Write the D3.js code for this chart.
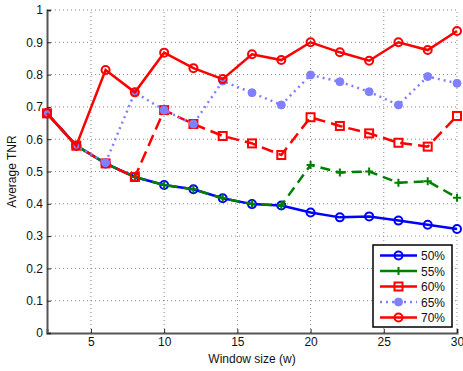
<html>
<head>
<script src="https://d3js.org/d3.v7.min.js"></script>
<style>
body { margin: 0; background: #fff; }
text { font-family: "Liberation Sans", Arial, sans-serif; }
</style>
</head>
<body>
<svg id="chart" width="463" height="371"></svg>
<script>
var windowSizes = [2, 4, 6, 8, 10, 12, 14, 16, 18, 20, 22, 24, 26, 28, 30];
var tnr50 = [0.68, 0.58, 0.525, 0.483, 0.458, 0.445, 0.417, 0.399, 0.395, 0.373, 0.358, 0.361, 0.348, 0.335, 0.322];
var tnr55 = [0.68, 0.58, 0.525, 0.483, 0.458, 0.445, 0.417, 0.399, 0.395, 0.52, 0.497, 0.50, 0.465, 0.47, 0.419];
var tnr60 = [0.68, 0.58, 0.525, 0.483, 0.69, 0.647, 0.61, 0.587, 0.551, 0.668, 0.641, 0.618, 0.589, 0.577, 0.672];
var tnr65 = [0.68, 0.58, 0.527, 0.745, 0.69, 0.647, 0.78, 0.744, 0.706, 0.799, 0.778, 0.747, 0.706, 0.794, 0.773];
var tnr70 = [0.68, 0.58, 0.814, 0.745, 0.868, 0.82, 0.786, 0.863, 0.845, 0.9, 0.869, 0.843, 0.9, 0.876, 0.935];
var seriesNames = ["50%", "55%", "60%", "65%", "70%"];
var xTicks = [5, 10, 15, 20, 25, 30];
var yTicks = [0, 0.1, 0.2, 0.3, 0.4, 0.5, 0.6, 0.7, 0.8, 0.9, 1];

var series = [
  {name: seriesNames[0], values: tnr50, color: "#0000ff", dash: null, marker: "circle"},
  {name: seriesNames[1], values: tnr55, color: "#008000", dash: "10,6", marker: "plus"},
  {name: seriesNames[2], values: tnr60, color: "#ff0000", dash: "12,6", marker: "square"},
  {name: seriesNames[3], values: tnr65, color: "#8080ff", dash: "2,4", marker: "dot"},
  {name: seriesNames[4], values: tnr70, color: "#ff0000", dash: null, marker: "circle"}
];

var svg = d3.select("#chart");
var x = d3.scaleLinear().domain([2, 30]).range([47, 457]);
var y = d3.scaleLinear().domain([0, 1]).range([333, 10]);

// dotted grid
svg.selectAll(".gx").data(xTicks).enter().append("line")
  .attr("x1", d => x(d)).attr("x2", d => x(d))
  .attr("y1", y(0)).attr("y2", y(1))
  .attr("stroke", "#888").attr("stroke-width", 1).attr("stroke-dasharray", "1,3");
svg.selectAll(".gy").data(yTicks.filter(d => d > 0)).enter().append("line")
  .attr("x1", x(2)).attr("x2", x(30))
  .attr("y1", d => y(d)).attr("y2", d => y(d))
  .attr("stroke", "#888").attr("stroke-width", 1).attr("stroke-dasharray", "1,3");

// axes
var xAxis = d3.axisBottom(x).tickValues(xTicks).tickSize(-4).tickPadding(4).tickFormat(d3.format("d"));
var yAxis = d3.axisLeft(y).tickValues(yTicks).tickSize(-4).tickPadding(4).tickFormat(d => d === 0 || d === 1 ? d : d3.format(".1f")(d));
var gx = svg.append("g").attr("transform", "translate(0," + y(0) + ")").call(xAxis);
var gy = svg.append("g").attr("transform", "translate(" + x(2) + ",0)").call(yAxis);
[gx, gy].forEach(function(g) {
  g.select(".domain").attr("stroke", "#555").attr("stroke-width", 2);
  g.selectAll(".tick line").attr("stroke", "#222");
  g.selectAll("text").attr("font-size", 12).attr("fill", "#111");
});

svg.append("text").attr("x", 252).attr("y", 363).attr("text-anchor", "middle")
  .attr("font-size", 12).attr("fill", "#111").text("Window size (w)");
svg.append("text").attr("transform", "translate(16," + y(0.5) + ") rotate(-90)")
  .attr("text-anchor", "middle").attr("font-size", 12).attr("fill", "#111").text("Average TNR");

function drawMarker(g, type, color, cx, cy) {
  if (type === "circle") {
    g.append("circle").attr("cx", cx).attr("cy", cy).attr("r", 4)
      .attr("fill", "none").attr("stroke", color).attr("stroke-width", 2);
  } else if (type === "dot") {
    g.append("circle").attr("cx", cx).attr("cy", cy).attr("r", 4)
      .attr("fill", color).attr("stroke", color).attr("stroke-width", 1);
  } else if (type === "square") {
    g.append("rect").attr("x", cx - 4).attr("y", cy - 4).attr("width", 8).attr("height", 8)
      .attr("fill", "none").attr("stroke", color).attr("stroke-width", 2);
  } else if (type === "plus") {
    g.append("path").attr("d", "M" + (cx - 4) + "," + cy + "H" + (cx + 4) + "M" + cx + "," + (cy - 4) + "V" + (cy + 4))
      .attr("stroke", color).attr("stroke-width", 2);
  }
}

var line = d3.line().x((d, i) => x(windowSizes[i])).y(d => y(d));

series.forEach(function(s) {
  var g = svg.append("g");
  g.append("path").attr("d", line(s.values))
    .attr("fill", "none").attr("stroke", s.color).attr("stroke-width", 2.5)
    .attr("stroke-dasharray", s.dash);
  s.values.forEach(function(v, i) {
    drawMarker(g, s.marker, s.color, x(windowSizes[i]), y(v));
  });
});

// legend
var lg = svg.append("g");
lg.append("rect").attr("x", 373).attr("y", 245).attr("width", 79).attr("height", 82)
  .attr("fill", "#fff").attr("stroke", "#000").attr("stroke-width", 1.5);
series.forEach(function(s, i) {
  var ly = 255.5 + i * 15.5;
  lg.append("line").attr("x1", 380).attr("x2", 417).attr("y1", ly).attr("y2", ly)
    .attr("stroke", s.color).attr("stroke-width", 2.5).attr("stroke-dasharray", s.marker === "dot" ? "2,4" : null);
  drawMarker(lg, s.marker, s.color, 398.5, ly);
  lg.append("text").attr("x", 421).attr("y", ly + 4.5).attr("font-size", 12).attr("fill", "#111").text(s.name);
});
</script>
</body>
</html>
